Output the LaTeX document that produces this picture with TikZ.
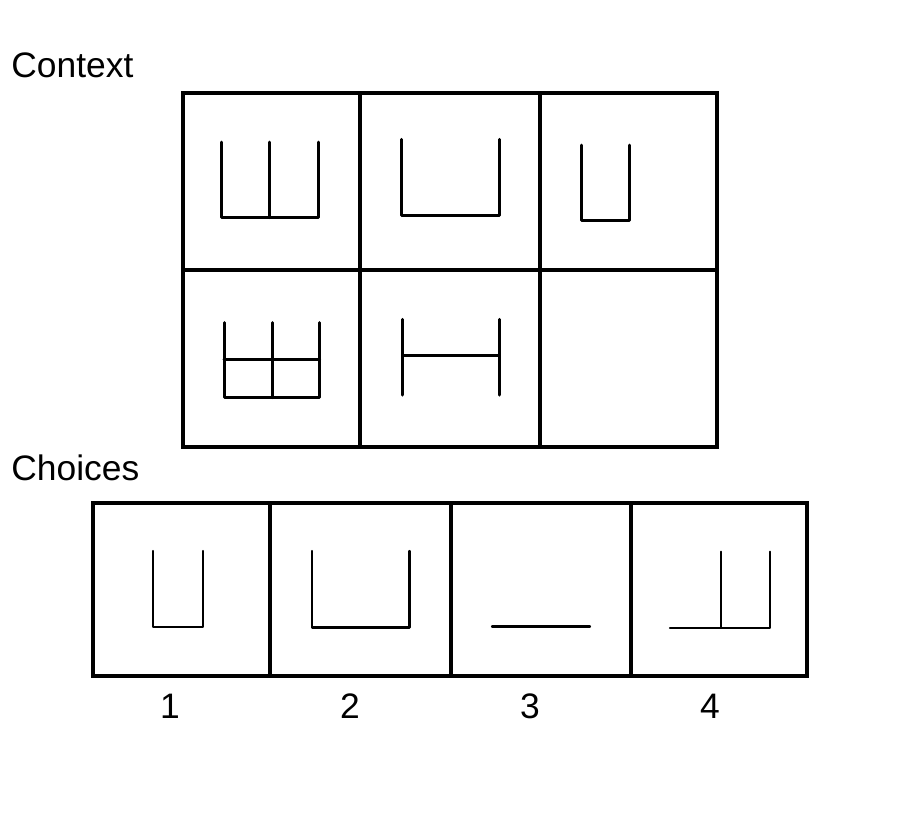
\documentclass[tikz,border=0pt]{standalone}
\usepackage{fontspec}
\setmainfont{Liberation Sans}
\begin{document}
\begin{tikzpicture}[x=0.5pt,y=-0.5pt,
  frame/.style={line width=2.15pt},
  glyph/.style={line width=1.5pt,line cap=round,line join=round},
  thinglyph/.style={line width=1.15pt,line cap=round,line join=round},
  caption/.style={inner sep=0pt,font=\fontsize{17.7}{21}\selectfont}]
\useasboundingbox (0,0) rectangle (900,820);

% context grid
\draw[frame] (183,93) rectangle (717,447);
\draw[frame] (360.3,93)--(360.3,447);
\draw[frame] (540.3,93)--(540.3,447);
\draw[frame] (183,270.3)--(717,270.3);

\draw[glyph] (221,142)--(221,217.7)--(318.7,217.7)--(318.7,142);
\draw[glyph] (269.5,142)--(269.5,217.7);
\draw[glyph] (401.3,139.3)--(401.3,215.7)--(499,215.7)--(499,139.3);
\draw[glyph] (581,145)--(581,220.5)--(629.3,220.5)--(629.3,145);

\draw[glyph] (224,322.7)--(224,397.7)--(319.7,397.7)--(319.7,322.7);
\draw[glyph] (272.7,322.7)--(272.7,397.7);
\draw[glyph] (224,359)--(319.7,359);
\draw[glyph] (402.7,319.3)--(402.7,395);
\draw[glyph] (499.3,319.3)--(499.3,395);
\draw[glyph] (402.7,355.7)--(499.3,355.7);

% choices row
\draw[frame] (93,503) rectangle (807,676.3);
\draw[frame] (270.3,503)--(270.3,676.3);
\draw[frame] (451,503)--(451,676.3);
\draw[frame] (631,503)--(631,676.3);

\draw[thinglyph] (153,551)--(153,627.3)--(203,627.3)--(203,551);
\draw[thinglyph] (312,551)--(312,627.5)--(409.5,627.5)--(409.5,551);
\draw[thinglyph] (492,626.5)--(590,626.5);
\draw[thinglyph] (670,627.7)--(770,627.7)--(770,551.7);
\draw[thinglyph] (720.7,551.7)--(720.7,627.7);

\node[caption,anchor=base west] (context) at (11,77.3) {Context};
\node[caption,anchor=base west] (choices) at (11,480) {Choices};
\foreach \n/\x in {1/170,2/350,3/530,4/710}
  \node[caption,anchor=base] (num\n) at (\x,718.3) {\n};
\end{tikzpicture}
\end{document}
